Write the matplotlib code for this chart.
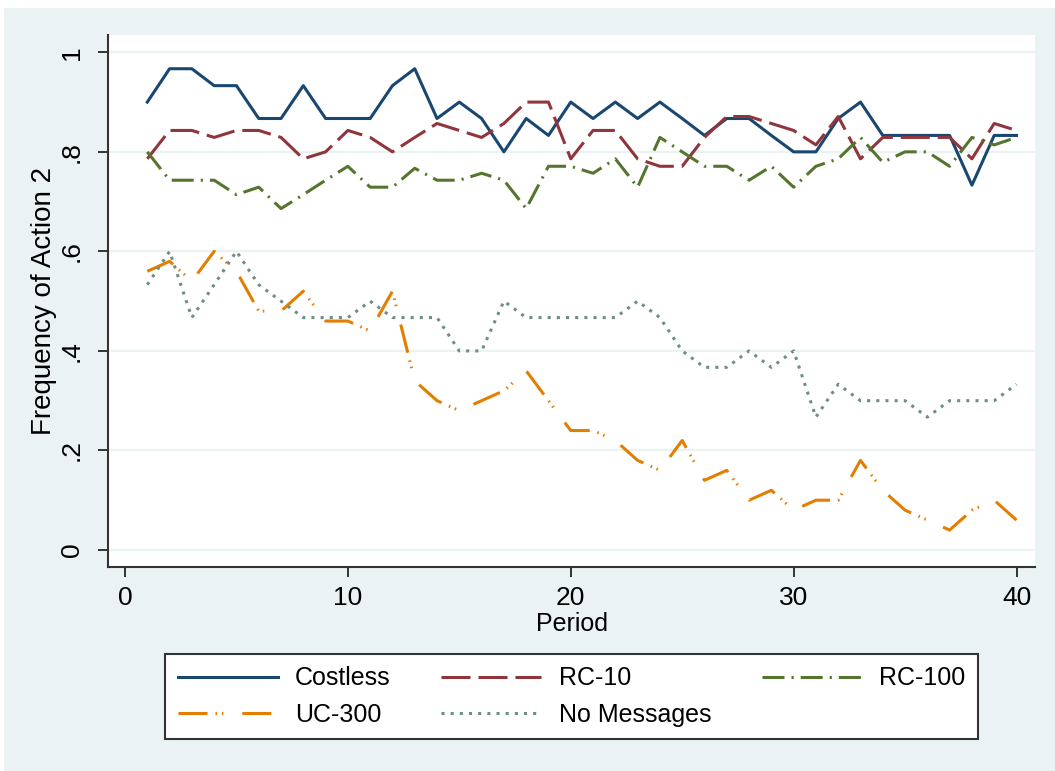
import matplotlib
matplotlib.use("Agg")
import matplotlib.pyplot as plt
from matplotlib.patches import Rectangle

plt.rcParams['font.family'] = ['Liberation Sans', 'DejaVu Sans']

# share of subjects choosing action 2, by period and treatment
periods = list(range(1, 41))

costless = [0.900, 0.967, 0.967, 0.933, 0.933, 0.867, 0.867, 0.933, 0.867, 0.867,
            0.867, 0.933, 0.967, 0.867, 0.900, 0.867, 0.800, 0.867, 0.833, 0.900,
            0.867, 0.900, 0.867, 0.900, 0.867, 0.833, 0.867, 0.867, 0.833, 0.800,
            0.800, 0.867, 0.900, 0.833, 0.833, 0.833, 0.833, 0.733, 0.833, 0.833]

rc10 = [0.786, 0.843, 0.843, 0.829, 0.843, 0.843, 0.829, 0.786, 0.800, 0.843,
        0.829, 0.800, 0.829, 0.857, 0.843, 0.829, 0.857, 0.900, 0.900, 0.786,
        0.843, 0.843, 0.786, 0.771, 0.771, 0.829, 0.871, 0.871, 0.857, 0.843,
        0.814, 0.871, 0.786, 0.829, 0.829, 0.829, 0.829, 0.786, 0.857, 0.843]

rc100 = [0.800, 0.743, 0.743, 0.743, 0.714, 0.729, 0.686, 0.714, 0.743, 0.771,
         0.729, 0.729, 0.767, 0.743, 0.743, 0.757, 0.743, 0.686, 0.771, 0.771,
         0.757, 0.786, 0.729, 0.829, 0.800, 0.771, 0.771, 0.743, 0.771, 0.729,
         0.771, 0.786, 0.829, 0.779, 0.800, 0.800, 0.771, 0.829, 0.814, 0.829]

uc300 = [0.56, 0.58, 0.54, 0.60, 0.56, 0.48, 0.48, 0.52, 0.46, 0.46,
         0.44, 0.52, 0.34, 0.30, 0.28, 0.30, 0.32, 0.36, 0.30, 0.24,
         0.24, 0.22, 0.18, 0.16, 0.22, 0.14, 0.16, 0.10, 0.12, 0.08,
         0.10, 0.10, 0.18, 0.12, 0.08, 0.06, 0.04, 0.08, 0.10, 0.06]

no_messages = [0.533, 0.600, 0.467, 0.533, 0.600, 0.533, 0.500, 0.467, 0.467, 0.467,
               0.500, 0.467, 0.467, 0.467, 0.400, 0.400, 0.500, 0.467, 0.467, 0.467,
               0.467, 0.467, 0.500, 0.467, 0.400, 0.367, 0.367, 0.400, 0.367, 0.400,
               0.267, 0.333, 0.300, 0.300, 0.300, 0.267, 0.300, 0.300, 0.300, 0.333]

labels = ["Costless", "RC-10", "RC-100", "UC-300", "No Messages"]

xticks = [0, 10, 20, 30, 40]
yticks = [0, 0.2, 0.4, 0.6, 0.8, 1.0]
ytick_labels = ["0", ".2", ".4", ".6", ".8", "1"]

bg = "#EAF2F3"
axis_col = "#333333"

fig = plt.figure(figsize=(10.55, 7.71), dpi=100)
fig.patch.set_facecolor("white")
fig.patches.append(Rectangle((4 / 1055, 0), 1, 1 - 8 / 771,
                             transform=fig.transFigure, facecolor=bg,
                             edgecolor="none", zorder=-10))

ax = fig.add_axes([108 / 1055, 1 - 566.7 / 771, (1035 - 108) / 1055, (566.7 - 35) / 771])
ax.set_facecolor("white")

lw = 2.2
styles = [
    ("#1A476F", "-"),
    ("#90353B", (0, (9.5, 2.6))),
    ("#55752F", (0, (7.2, 2.3, 0.7, 2.3))),
    ("#E37E00", (0, (9.5, 2.6, 0.5, 1.6, 0.5, 6.2))),
    ("#6E8E84", (0, (1.0, 2.0))),
]
series = [costless, rc10, rc100, uc300, no_messages]

handles = []
for vals, (col, ls), lab in zip(series, styles, labels):
    h, = ax.plot(periods, vals, color=col, linestyle=ls, linewidth=lw, label=lab,
                 solid_joinstyle="round", zorder=3)
    handles.append(h)

ax.set_xlim(-0.763, 40.83)
ax.set_ylim(-0.0336, 1.0348)
ax.set_xticks(xticks)
ax.set_yticks(yticks)
ax.set_yticklabels(ytick_labels, rotation=90, va="center")
ax.yaxis.grid(True, color=bg, linewidth=1.6, zorder=0)
ax.set_axisbelow(True)

for side in ["top", "right"]:
    ax.spines[side].set_visible(False)
for side in ["left", "bottom"]:
    ax.spines[side].set_color(axis_col)
    ax.spines[side].set_linewidth(1.5)

ax.tick_params(axis="both", direction="out", length=7.2, width=1.4,
               color=axis_col, labelsize=19, labelcolor="black")
ax.tick_params(axis="x", pad=7)
ax.tick_params(axis="y", pad=10)

ax.set_xlabel("Period", fontsize=18, labelpad=1)
ax.set_ylabel("Frequency of Action 2", fontsize=20, labelpad=2)

order = [0, 3, 1, 4, 2]
leg = fig.legend([handles[i] for i in order], [labels[i] for i in order],
                 ncol=3, loc="center",
                 bbox_to_anchor=(165 / 1055, 1 - 740 / 771, (978 - 165) / 1055, 87 / 771),
                 mode="expand", fontsize=18, handlelength=4.0, handletextpad=0.7,
                 columnspacing=1.8, labelspacing=0.5, borderaxespad=0,
                 frameon=True, fancybox=False, framealpha=1, borderpad=0.5)
leg.get_frame().set_edgecolor(axis_col)
leg.get_frame().set_linewidth(1.5)

fig.savefig("out.png", dpi=100)
